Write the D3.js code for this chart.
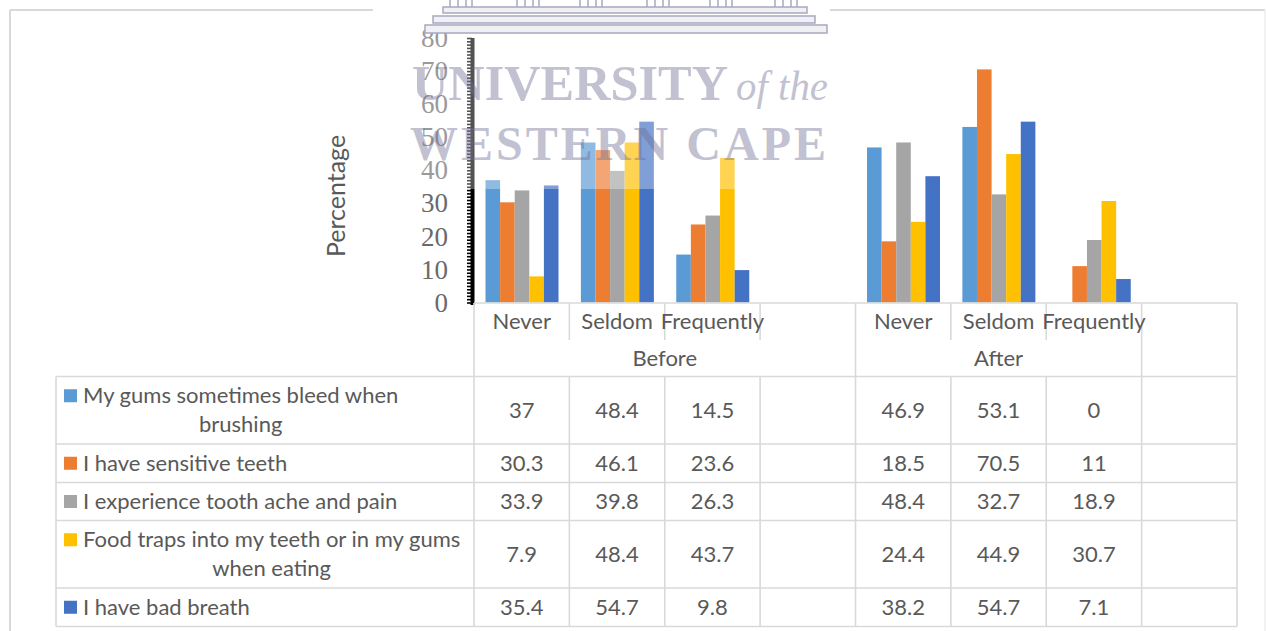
<!DOCTYPE html>
<html><head><meta charset="utf-8">
<script src="https://cdn.jsdelivr.net/npm/d3@7"></script>
<style>
html,body{margin:0;padding:0;background:#fff;}
svg{display:block;}
</style></head>
<body>
<svg id="chart" width="1266" height="631"></svg>
<script>
// ---------- data ----------
const groups = ["Before", "After"];
const levels = ["Never", "Seldom", "Frequently", ""];
const seriesNames = [
  "My gums sometimes bleed when brushing",
  "I have sensitive teeth",
  "I experience tooth ache and pain",
  "Food traps into my teeth or in my gums when eating",
  "I have bad breath"
];
const seriesLines = [
  ["My gums sometimes bleed when", "brushing"],
  ["I have sensitive teeth"],
  ["I experience tooth ache and pain"],
  ["Food traps into my teeth or in my gums", "when eating"],
  ["I have bad breath"]
];
const seriesColors = ["#5B9BD5", "#ED7D31", "#A5A5A5", "#FFC000", "#4472C4"];
const beforeValues = [
  [37, 48.4, 14.5],
  [30.3, 46.1, 23.6],
  [33.9, 39.8, 26.3],
  [7.9, 48.4, 43.7],
  [35.4, 54.7, 9.8]
];
const afterValues = [
  [46.9, 53.1, 0],
  [18.5, 70.5, 11],
  [48.4, 32.7, 18.9],
  [24.4, 44.9, 30.7],
  [38.2, 54.7, 7.1]
];
const yTicks = [0, 10, 20, 30, 40, 50, 60, 70, 80];
const yTitle = "Percentage";

// ---------- setup ----------
const svg = d3.select("#chart");
const textColor = "#595959";
const gridColor = "#d9d9d9";
const sans = "Lato, 'Open Sans', sans-serif";
const fs = 22;

const slots = [];
groups.forEach(g => levels.forEach(l => slots.push(g + "|" + l)));

const x0 = d3.scaleBand().domain(slots).range([474, 1237]).padding(0);
const x1 = d3.scaleBand().domain(d3.range(seriesNames.length)).range([11.5, 84.5]).padding(0);
const y = d3.scaleLinear().domain([0, 80]).range([302.5, 38]);

// outer border
svg.append("line").attr("x1", 10).attr("x2", 373).attr("y1", 10).attr("y2", 10)
  .attr("stroke", gridColor).attr("stroke-width", 2);
svg.append("line").attr("x1", 830).attr("x2", 1265).attr("y1", 10).attr("y2", 10)
  .attr("stroke", gridColor).attr("stroke-width", 2);
svg.append("line").attr("x1", 10).attr("x2", 10).attr("y1", 10).attr("y2", 631)
  .attr("stroke", gridColor).attr("stroke-width", 2);
svg.append("line").attr("x1", 1265).attr("x2", 1265).attr("y1", 10).attr("y2", 631)
  .attr("stroke", "#eeeeee").attr("stroke-width", 1.5);

// ---------- bars ----------
const barData = [];
seriesNames.forEach((s, si) => {
  levels.slice(0, 3).forEach((l, li) => {
    barData.push({ slot: "Before|" + l, si, v: beforeValues[si][li] });
    barData.push({ slot: "After|" + l, si, v: afterValues[si][li] });
  });
});
svg.append("g").selectAll("rect").data(barData).join("rect")
  .attr("x", d => x0(d.slot) + x1(d.si))
  .attr("width", x1.bandwidth())
  .attr("y", d => y(d.v))
  .attr("height", d => y(0) - y(d.v))
  .attr("fill", d => seriesColors[d.si]);

// ---------- y axis ----------
const minor = svg.append("g").attr("transform", "translate(472,0)")
  .call(d3.axisLeft(y).tickValues(d3.range(0, 81, 1)).tickSize(5).tickFormat(""));
minor.select(".domain").remove();
minor.selectAll(".tick line").attr("stroke", "#000").attr("stroke-width", 1.6);

svg.append("rect").attr("x", 470.5).attr("y", y(80)).attr("width", 4)
  .attr("height", y(0) - y(80) + 2.5).attr("fill", "#000");

const yAx = svg.append("g").attr("transform", "translate(472,0)")
  .call(d3.axisLeft(y).tickValues(yTicks).tickSize(0).tickPadding(24));
yAx.select(".domain").remove();
yAx.selectAll(".tick text")
  .attr("font-family", "'Liberation Serif', 'Times New Roman', serif")
  .attr("font-size", 27).attr("fill", "#6a6a6a");

// y title
svg.append("text").attr("transform", "translate(345,196) rotate(-90)")
  .attr("text-anchor", "middle").attr("font-family", sans).attr("font-size", 25)
  .attr("fill", textColor).text(yTitle);

// ---------- category table ----------
const tbl = svg.append("g");
const rowTops = [376.5, 444, 482.5, 520.5, 588, 626.5];
tbl.append("line").attr("x1", 474).attr("x2", 1237).attr("y1", 303).attr("y2", 303)
  .attr("stroke", gridColor).attr("stroke-width", 1.6);
slots.forEach((s, i) => {
  if (i === 0) return;
  const xx = x0(s);
  const full = (i === 4 || i === 7);
  tbl.append("line").attr("x1", xx).attr("x2", xx).attr("y1", 303).attr("y2", full ? 376.5 : 340)
    .attr("stroke", gridColor).attr("stroke-width", 1.6);
});
[474, 1237].forEach(xx => tbl.append("line").attr("x1", xx).attr("x2", xx).attr("y1", 303).attr("y2", 376.5)
  .attr("stroke", gridColor).attr("stroke-width", 1.6));

slots.forEach(s => {
  const lvl = s.split("|")[1];
  if (!lvl) return;
  tbl.append("text").attr("x", x0(s) + x0.bandwidth() / 2).attr("y", 329)
    .attr("text-anchor", "middle").attr("font-family", sans).attr("font-size", fs)
    .attr("fill", textColor).text(lvl);
});
tbl.append("text").attr("x", (x0("Before|Never") + x0("After|Never")) / 2).attr("y", 366)
  .attr("text-anchor", "middle").attr("font-family", sans).attr("font-size", fs)
  .attr("fill", textColor).text(groups[0]);
tbl.append("text").attr("x", (x0("After|Never") + x0("After|")) / 2).attr("y", 366)
  .attr("text-anchor", "middle").attr("font-family", sans).attr("font-size", fs)
  .attr("fill", textColor).text(groups[1]);

rowTops.forEach(yy => tbl.append("line").attr("x1", 56).attr("x2", 1237).attr("y1", yy).attr("y2", yy)
  .attr("stroke", gridColor).attr("stroke-width", 1.6));
[56, ...slots.map(s => x0(s)), 1237].forEach(xx => tbl.append("line").attr("x1", xx).attr("x2", xx)
  .attr("y1", 376.5).attr("y2", 626.5).attr("stroke", gridColor).attr("stroke-width", 1.6));

seriesNames.forEach((s, si) => {
  const top = rowTops[si], bot = rowTops[si + 1];
  const mid = (top + bot) / 2;
  const lines = seriesLines[si];
  const lh = 29;
  const firstBase = mid - (lines.length - 1) * lh / 2 + 7.5;
  let firstText;
  lines.forEach((ln, k) => {
    if (k === 0) {
      tbl.append("rect").attr("x", 64).attr("y", firstBase - 14).attr("width", 13).attr("height", 13)
        .attr("fill", seriesColors[si]);
      firstText = tbl.append("text").attr("x", 83).attr("y", firstBase).attr("font-family", sans)
        .attr("font-size", fs).attr("fill", textColor).text(ln);
    } else {
      const w = firstText.node().getComputedTextLength();
      tbl.append("text").attr("x", 83 + w / 2).attr("y", firstBase + k * lh).attr("text-anchor", "middle")
        .attr("font-family", sans).attr("font-size", fs).attr("fill", textColor).text(ln);
    }
  });
  levels.slice(0, 3).forEach((l, li) => {
    [["Before", beforeValues], ["After", afterValues]].forEach(([g, vals]) => {
      tbl.append("text").attr("x", x0(g + "|" + l) + x0.bandwidth() / 2).attr("y", mid + 7.5)
        .attr("text-anchor", "middle").attr("font-family", sans).attr("font-size", fs)
        .attr("fill", textColor).text(vals[si][li]);
    });
  });
});

// ---------- watermark ----------
const wm = svg.append("g");
wm.append("rect").attr("x", 373).attr("y", 0).attr("width", 457).attr("height", 189)
  .attr("fill", "#fff").attr("opacity", 0.32);
const wmc = "#a8a8c0";
[[443, 7, 364, 6], [433, 16, 382, 7], [425, 25, 402, 8]].forEach(([bx, by, bw, bh]) =>
  wm.append("rect").attr("x", bx).attr("y", by).attr("width", bw).attr("height", bh)
    .attr("fill", "#f0f0f5").attr("stroke", wmc).attr("stroke-width", 1.5));
[450, 517, 580, 647, 710, 775].forEach(cx => {
  [0, 8, 16, 22].forEach(dx => wm.append("line").attr("x1", cx + dx).attr("x2", cx + dx)
    .attr("y1", 0).attr("y2", 7).attr("stroke", wmc).attr("stroke-width", 1.5));
});
const wtxt = wm.append("g").attr("fill", "#6e6e92").attr("opacity", 0.42)
  .attr("font-family", "'Liberation Serif', 'Times New Roman', serif");
wtxt.append("text").attr("x", 412).attr("y", 100).attr("font-size", 50).attr("font-weight", "bold")
  .attr("textLength", 316).attr("lengthAdjust", "spacingAndGlyphs").text("UNIVERSITY");
wtxt.append("text").attr("x", 736).attr("y", 100).attr("font-size", 42).attr("font-style", "italic")
  .attr("textLength", 92).attr("lengthAdjust", "spacingAndGlyphs").text("of the");
wtxt.append("text").attr("x", 410).attr("y", 160).attr("font-size", 48).attr("font-weight", "bold")
  .attr("textLength", 416).attr("lengthAdjust", "spacing").text("WESTERN CAPE");
</script>
</body></html>
